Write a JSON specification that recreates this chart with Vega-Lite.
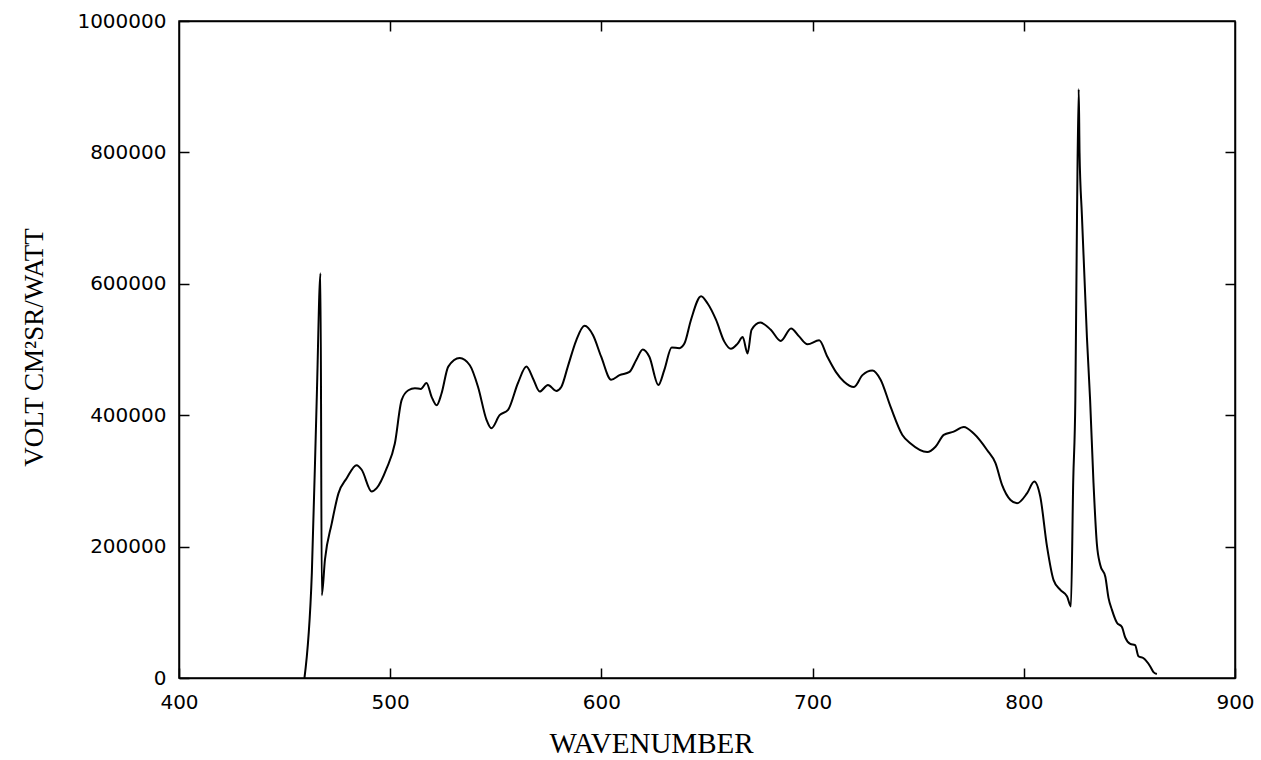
{
  "$schema": "https://vega.github.io/schema/vega-lite/v6.json",
  "width": 1056,
  "height": 657,
  "autosize": {"type": "none"},
  "padding": {"left": 179, "top": 21, "right": 26, "bottom": 82},
  "background": "white",
  "config": {
    "view": {"stroke": "black", "strokeWidth": 1.5},
    "axis": {
      "domainColor": "black",
      "domainWidth": 1.5,
      "tickColor": "black",
      "tickWidth": 1.5,
      "tickSize": -10,
      "grid": false,
      "labelFlush": false,
      "labelOverlap": false,
      "labelFont": "DejaVu Sans",
      "labelFontSize": 20,
      "labelColor": "black",
      "titleColor": "black",
      "titleFont": "Liberation Serif",
      "titleFontSize": 27,
      "titleFontWeight": "normal"
    }
  },
  "data": {
    "values": [
      {"wn": 459.4, "v": 0},
      {"wn": 462.9, "v": 160000},
      {"wn": 465.2, "v": 423000},
      {"wn": 467.0, "v": 616000},
      {"wn": 467.6, "v": 126000},
      {"wn": 469.1, "v": 180000},
      {"wn": 472.3, "v": 235000},
      {"wn": 475.5, "v": 281000},
      {"wn": 479.4, "v": 304000},
      {"wn": 484.1, "v": 324000},
      {"wn": 486.5, "v": 317000},
      {"wn": 491.2, "v": 284000},
      {"wn": 493.6, "v": 289000},
      {"wn": 498.3, "v": 319000},
      {"wn": 502.2, "v": 357000},
      {"wn": 505.4, "v": 423000},
      {"wn": 508.6, "v": 438000},
      {"wn": 511.7, "v": 441000},
      {"wn": 514.5, "v": 440000},
      {"wn": 517.2, "v": 449000},
      {"wn": 519.6, "v": 428000},
      {"wn": 522.0, "v": 415000},
      {"wn": 524.3, "v": 433000},
      {"wn": 527.5, "v": 474000},
      {"wn": 532.9, "v": 487000},
      {"wn": 537.7, "v": 476000},
      {"wn": 541.6, "v": 443000},
      {"wn": 545.6, "v": 393000},
      {"wn": 547.9, "v": 380000},
      {"wn": 551.8, "v": 400000},
      {"wn": 555.8, "v": 408000},
      {"wn": 560.5, "v": 449000},
      {"wn": 564.5, "v": 474000},
      {"wn": 567.6, "v": 456000},
      {"wn": 570.8, "v": 436000},
      {"wn": 574.7, "v": 446000},
      {"wn": 578.6, "v": 437000},
      {"wn": 581.0, "v": 443000},
      {"wn": 584.1, "v": 474000},
      {"wn": 588.1, "v": 514000},
      {"wn": 592.0, "v": 536000},
      {"wn": 596.0, "v": 522000},
      {"wn": 599.9, "v": 489000},
      {"wn": 604.6, "v": 454000},
      {"wn": 608.6, "v": 461000},
      {"wn": 613.3, "v": 466000},
      {"wn": 616.5, "v": 484000},
      {"wn": 619.6, "v": 500000},
      {"wn": 622.7, "v": 489000},
      {"wn": 627.0, "v": 446000},
      {"wn": 629.8, "v": 469000},
      {"wn": 633.3, "v": 503000},
      {"wn": 636.9, "v": 502000},
      {"wn": 639.3, "v": 509000},
      {"wn": 642.4, "v": 545000},
      {"wn": 647.2, "v": 581000},
      {"wn": 650.3, "v": 570000},
      {"wn": 654.3, "v": 545000},
      {"wn": 658.2, "v": 512000},
      {"wn": 661.3, "v": 501000},
      {"wn": 664.5, "v": 509000},
      {"wn": 666.9, "v": 519000},
      {"wn": 669.2, "v": 494000},
      {"wn": 671.1, "v": 530000},
      {"wn": 675.2, "v": 541000},
      {"wn": 680.2, "v": 530000},
      {"wn": 684.9, "v": 513000},
      {"wn": 689.8, "v": 532000},
      {"wn": 693.6, "v": 520000},
      {"wn": 697.6, "v": 508000},
      {"wn": 703.1, "v": 514000},
      {"wn": 707.0, "v": 489000},
      {"wn": 711.0, "v": 466000},
      {"wn": 714.9, "v": 451000},
      {"wn": 719.6, "v": 443000},
      {"wn": 723.6, "v": 461000},
      {"wn": 728.3, "v": 468000},
      {"wn": 732.2, "v": 454000},
      {"wn": 736.9, "v": 413000},
      {"wn": 742.5, "v": 370000},
      {"wn": 746.4, "v": 357000},
      {"wn": 754.3, "v": 344000},
      {"wn": 758.2, "v": 352000},
      {"wn": 762.1, "v": 370000},
      {"wn": 766.8, "v": 375000},
      {"wn": 771.6, "v": 382000},
      {"wn": 776.3, "v": 372000},
      {"wn": 782.6, "v": 347000},
      {"wn": 786.6, "v": 327000},
      {"wn": 789.7, "v": 294000},
      {"wn": 793.7, "v": 271000},
      {"wn": 796.8, "v": 266000},
      {"wn": 801.5, "v": 281000},
      {"wn": 805.0, "v": 299000},
      {"wn": 807.8, "v": 276000},
      {"wn": 811.0, "v": 200000},
      {"wn": 814.1, "v": 149000},
      {"wn": 817.3, "v": 134000},
      {"wn": 820.5, "v": 124000},
      {"wn": 822.3, "v": 109000},
      {"wn": 823.4, "v": 300000},
      {"wn": 824.4, "v": 423000},
      {"wn": 825.2, "v": 705000},
      {"wn": 826.0, "v": 896000},
      {"wn": 826.4, "v": 799000},
      {"wn": 827.5, "v": 705000},
      {"wn": 829.9, "v": 518000},
      {"wn": 831.4, "v": 423000},
      {"wn": 833.0, "v": 297000},
      {"wn": 834.6, "v": 204000},
      {"wn": 836.2, "v": 172000},
      {"wn": 838.6, "v": 154000},
      {"wn": 840.1, "v": 122000},
      {"wn": 841.7, "v": 104000},
      {"wn": 844.1, "v": 84000},
      {"wn": 846.4, "v": 78000},
      {"wn": 848.0, "v": 62000},
      {"wn": 850.4, "v": 52000},
      {"wn": 852.7, "v": 50000},
      {"wn": 854.3, "v": 33000},
      {"wn": 856.7, "v": 30000},
      {"wn": 859.8, "v": 18000},
      {"wn": 861.4, "v": 9000},
      {"wn": 863.0, "v": 6000}
    ]
  },
  "layer": [
    {
      "mark": {"type": "line", "color": "black", "strokeWidth": 2, "interpolate": "monotone"},
      "encoding": {
        "x": {
          "field": "wn", "type": "quantitative",
          "scale": {"domain": [400, 900], "nice": false, "zero": false},
          "axis": {
            "orient": "bottom",
            "values": [400, 500, 600, 700, 800, 900],
            "format": "d",
            "labelPadding": 24,
            "title": "WAVENUMBER",
            "titleFontSize": 29,
            "titleX": 472,
            "titleY": 74,
            "titleBaseline": "alphabetic",
            "titleAlign": "center"
          }
        },
        "y": {
          "field": "v", "type": "quantitative",
          "scale": {"domain": [0, 1000000], "nice": false},
          "axis": {
            "orient": "left",
            "values": [0, 200000, 400000, 600000, 800000, 1000000],
            "format": "d",
            "labelPadding": 23,
            "title": "VOLT CM²SR/WATT",
            "titleAngle": 270,
            "titleX": -145,
            "titleY": 326,
            "titleAlign": "center",
            "titleBaseline": "middle"
          }
        }
      }
    },
    {
      "mark": {"type": "line", "color": "black", "strokeWidth": 2, "interpolate": "monotone", "opacity": 0},
      "encoding": {
        "x": {
          "field": "wn", "type": "quantitative",
          "axis": {"orient": "top", "values": [500, 600, 700, 800], "labels": false, "title": null}
        },
        "y": {
          "field": "v", "type": "quantitative",
          "axis": {"orient": "right", "values": [200000, 400000, 600000, 800000], "labels": false, "title": null}
        }
      }
    }
  ],
  "resolve": {"axis": {"x": "independent", "y": "independent"}}
}
